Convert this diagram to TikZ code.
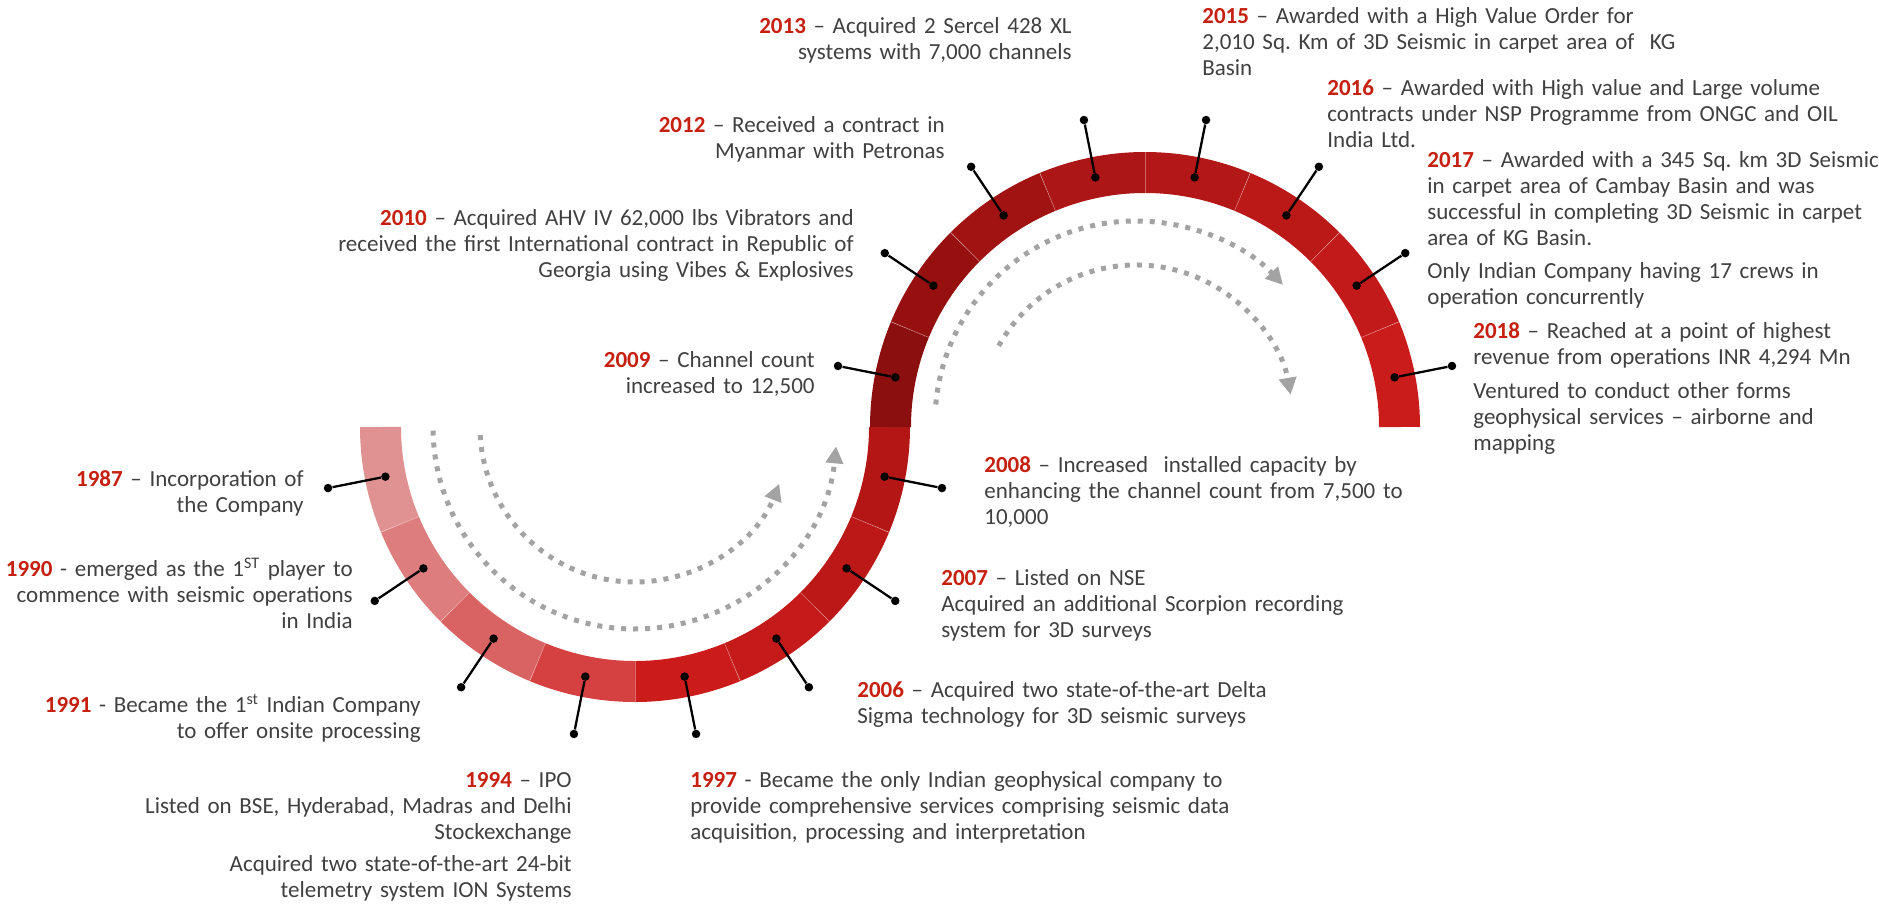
\documentclass[tikz,border=0pt]{standalone}
\usepackage{fontspec}
\setmainfont{Carlito}
\usetikzlibrary{calc,arrows.meta}

\definecolor{yearred}{RGB}{198,32,16}
\definecolor{bodygray}{RGB}{64,64,64}
\definecolor{flowgray}{RGB}{163,163,163}
% lower half, light to dark
\definecolor{s1987}{RGB}{224,146,146}
\definecolor{s1990}{RGB}{221,125,125}
\definecolor{s1991}{RGB}{217,98,98}
\definecolor{s1994}{RGB}{213,64,64}
\definecolor{s1997}{RGB}{204,27,27}
\definecolor{s2006}{RGB}{196,26,26}
\definecolor{s2007}{RGB}{188,24,24}
\definecolor{s2008}{RGB}{180,22,22}
% upper half, dark to light
\definecolor{s2009}{RGB}{140,15,15}
\definecolor{s2010}{RGB}{151,16,16}
\definecolor{s2012}{RGB}{161,19,19}
\definecolor{s2013}{RGB}{172,22,22}
\definecolor{s2015}{RGB}{180,23,23}
\definecolor{s2016}{RGB}{187,24,24}
\definecolor{s2017}{RGB}{194,26,26}
\definecolor{s2018}{RGB}{203,28,28}

\newcommand{\yr}[1]{\textbf{\color{yearred}#1}}
\frenchspacing

\begin{document}
\begin{tikzpicture}[x=0.02cm, y=-0.02cm,
    band/.style={line width=0.82cm},
    seam/.style={white, opacity=0.35, line width=0.4pt},
    pindot/.style={circle, fill=black, inner sep=0pt, minimum size=0.17cm},
    pinline/.style={line width=1.3pt},
    flow/.style={flowgray, line width=0.1cm, dash pattern=on 0.1cm off 0.14cm,
      -{Triangle[length=0.34cm, width=0.34cm]}},
    txt/.style={inner sep=0pt, text width=12cm, text=bodygray,
      font=\fontsize{13.1}{14.8}\selectfont},
    lefttxt/.style={txt, anchor=base east, align=right},
    righttxt/.style={txt, anchor=base west, align=left}]
    \useasboundingbox (0,0) rectangle (1879,903);

    % centres of the two half rings
    \coordinate (lc) at (635,427);
    \coordinate (uc) at (1145,427);
    \coordinate (fc) at (1136,422);

    % dotted flow arrows
    \draw[flow] (lc) ++(179:202) arc[start angle=179, end angle=5.5, radius=202];
    \draw[flow] (lc) ++(177:155) arc[start angle=177, end angle=21.5, radius=155];
    \draw[flow] (fc) ++(185:201) arc[start angle=185, end angle=317, radius=201];
    \draw[flow] (fc) ++(209:157) arc[start angle=209, end angle=350, radius=157];

    % lower half ring
    \foreach \a/\c in {180/s1987,157.5/s1990,135/s1991,112.5/s1994,90/s1997,67.5/s2006,45/s2007,22.5/s2008}
      \draw[band,\c] (lc) ++(\a:254.5) arc[start angle=\a, delta angle=-22.5, radius=254.5];
    % upper half ring
    \foreach \a/\c in {180/s2009,202.5/s2010,225/s2012,247.5/s2013,270/s2015,292.5/s2016,315/s2017,337.5/s2018}
      \draw[band,\c] (uc) ++(\a:254.5) arc[start angle=\a, delta angle=22.5, radius=254.5];
    % thin seams between the pieces
    \foreach \a in {157.5,135,112.5,90,67.5,45,22.5}
      \draw[seam] ($(lc)+(\a:234)$) -- ($(lc)+(\a:275)$);
    \foreach \a in {202.5,225,247.5,270,292.5,315,337.5}
      \draw[seam] ($(uc)+(\a:234)$) -- ($(uc)+(\a:275)$);

    % pins
    \foreach \a/\n in {168.75/1987,146.25/1990,123.75/1991,101.25/1994,78.75/1997,56.25/2006,33.75/2007,11.25/2008} {
      \node[pindot] (i\n) at ($(lc)+(\a:254.5)$) {};
      \node[pindot] (o\n) at ($(lc)+(\a:313)$) {};
      \draw[pinline] (i\n) -- (o\n);
    }
    \foreach \a/\n in {191.25/2009,213.75/2010,236.25/2012,258.75/2013,281.25/2015,303.75/2016,326.25/2017,348.75/2018} {
      \node[pindot] (i\n) at ($(uc)+(\a:254.5)$) {};
      \node[pindot] (o\n) at ($(uc)+(\a:313)$) {};
      \draw[pinline] (i\n) -- (o\n);
    }

    % milestones, left side
    \node[lefttxt] (t1987) at (304,486) {\yr{1987} -- Incorporation of\\the Company};
    \node[lefttxt] (t1990) at (353,576) {\yr{1990} - emerged as the 1\textsuperscript{ST} player to\\commence with seismic operations\\in India};
    \node[lefttxt] (t1991) at (421,712) {\yr{1991} - Became the 1\textsuperscript{st} Indian Company\\to offer onsite processing};
    \node[lefttxt] (t1994) at (572,787) {\yr{1994} -- IPO\\Listed on BSE, Hyderabad, Madras and Delhi\\Stockexchange\\[0.12cm]Acquired two state-of-the-art 24-bit\\telemetry system ION Systems};
    \node[lefttxt] (t2009) at (815,367) {\yr{2009} -- Channel count\\increased to 12,500};
    \node[lefttxt] (t2010) at (854,225) {\yr{2010} -- Acquired AHV IV 62,000 lbs Vibrators and\\received the first International contract in Republic of\\Georgia using Vibes \& Explosives};
    \node[lefttxt] (t2012) at (945,132) {\yr{2012} -- Received a contract in\\Myanmar with Petronas};
    \node[lefttxt] (t2013) at (1072,33) {\yr{2013} -- Acquired 2 Sercel 428 XL\\systems with 7,000 channels};

    % milestones, right side
    \node[righttxt] (t1997) at (690,787) {\yr{1997} - Became the only Indian geophysical company to\\provide comprehensive services comprising seismic data\\acquisition, processing and interpretation};
    \node[righttxt] (t2006) at (857,697) {\yr{2006} -- Acquired two state-of-the-art Delta\\Sigma technology for 3D seismic surveys};
    \node[righttxt] (t2007) at (941,585) {\yr{2007} -- Listed on NSE\\Acquired an additional Scorpion recording\\system for 3D surveys};
    \node[righttxt] (t2008) at (984,472) {\yr{2008} -- Increased\ \ installed capacity by\\enhancing the channel count from 7,500 to\\10,000};
    \node[righttxt] (t2015) at (1202,23) {\yr{2015} -- Awarded with a High Value Order for\\2,010 Sq. Km of 3D Seismic in carpet area of\ \ KG\\Basin};
    \node[righttxt] (t2016) at (1327,95) {\yr{2016} -- Awarded with High value and Large volume\\contracts under NSP Programme from ONGC and OIL\\India Ltd.};
    \node[righttxt] (t2017) at (1427,167) {\yr{2017} -- Awarded with a 345 Sq. km 3D Seismic\\in carpet area of Cambay Basin and was\\successful in completing 3D Seismic in carpet\\area of KG Basin.\\[0.14cm]Only Indian Company having 17 crews in\\operation concurrently};
    \node[righttxt] (t2018) at (1473,338) {\yr{2018} -- Reached at a point of highest\\revenue from operations INR 4,294 Mn\\[0.16cm]Ventured to conduct other forms\\geophysical services -- airborne and\\mapping};
\end{tikzpicture}
\end{document}
